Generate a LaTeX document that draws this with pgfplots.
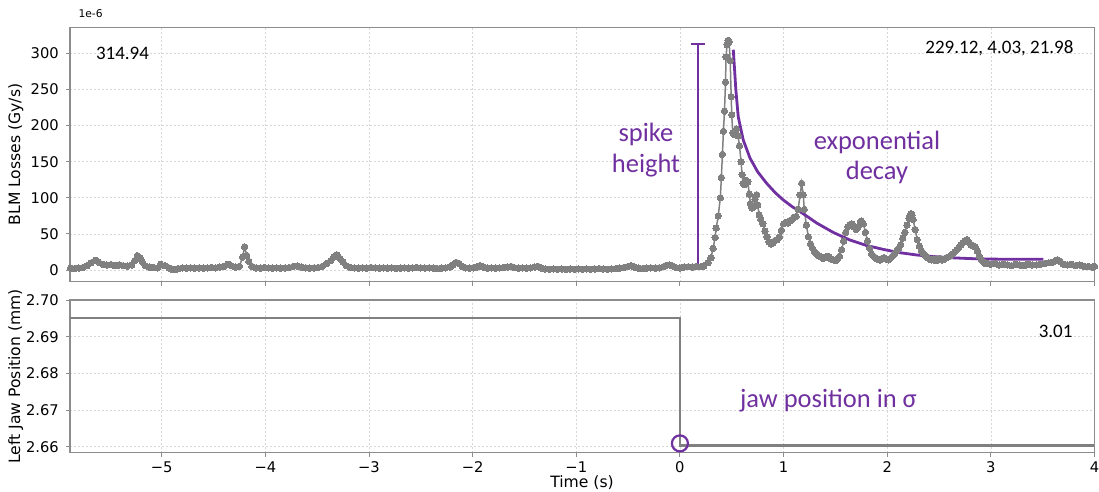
\documentclass[border=0pt]{standalone}
\usepackage{pgfplots}
\pgfplotsset{compat=1.18}
\usepackage{fontspec}
\setmainfont{DejaVu Sans}
\newfontfamily\calfont{Carlito}
\definecolor{datagray}{RGB}{128,128,128}
\definecolor{framegray}{RGB}{140,140,140}
\definecolor{gridgray}{RGB}{215,215,215}
\definecolor{annpurple}{RGB}{112,48,160}

\pgfplotstableread{
x y
-5.88 2.5
-5.84 2.0
-5.80 2.8
-5.76 3.5
-5.72 6
-5.68 10
-5.64 13.5
-5.61 11
-5.57 8
-5.53 7
-5.49 7.5
-5.45 6
-5.41 7
-5.37 6
-5.33 5.5
-5.29 7
-5.26 13
-5.235 20
-5.21 17
-5.19 12
-5.16 6
-5.12 4
-5.08 3.5
-5.04 3
-5.01 8
-4.97 6
-4.93 3
-4.90 1
-4.87 0.5
-4.84 2
-4.80 3
-4.76 2.5
-4.72 3
-4.68 2.5
-4.64 3
-4.60 2.5
-4.56 3
-4.52 3.5
-4.48 3
-4.44 4
-4.40 5
-4.36 8
-4.33 6
-4.29 4
-4.25 5
-4.22 18
-4.20 32
-4.18 20
-4.16 12
-4.13 5
-4.09 3
-4.05 2.5
-4.01 3.5
-3.97 3
-3.93 2.5
-3.89 3
-3.85 2.5
-3.81 3
-3.77 3.5
-3.73 5
-3.69 5.5
-3.65 4
-3.61 3
-3.57 2.5
-3.53 3
-3.49 3.5
-3.45 5
-3.41 9
-3.37 13
-3.34 18
-3.31 21
-3.28 16
-3.25 11
-3.22 6
-3.18 3.5
-3.14 3
-3.10 2.5
-3.06 3
-3.02 2.5
-2.98 3.5
-2.94 3
-2.90 2.5
-2.86 3
-2.82 2.5
-2.78 3
-2.74 2
-2.70 2.5
-2.66 3
-2.62 2.5
-2.58 3
-2.54 3.5
-2.50 3
-2.46 2.5
-2.42 3
-2.38 2.5
-2.34 2
-2.30 2.5
-2.26 3
-2.22 4
-2.19 7
-2.16 10.5
-2.13 9
-2.10 5
-2.07 3
-2.03 2.5
-1.99 3
-1.96 4
-1.93 6
-1.90 4
-1.86 2.5
-1.82 3
-1.78 2.5
-1.74 3
-1.70 3.5
-1.66 4
-1.63 5
-1.60 3.5
-1.56 2.5
-1.52 3
-1.48 2.5
-1.44 3
-1.40 4
-1.37 5
-1.34 3
-1.30 1.5
-1.26 1
-1.22 1.5
-1.18 1
-1.14 1.5
-1.10 1
-1.06 1.5
-1.02 1
-0.98 1.5
-0.94 1
-0.90 1.5
-0.86 1
-0.82 1.5
-0.78 2
-0.74 1.5
-0.70 1
-0.66 1.5
-0.62 2
-0.58 2.5
-0.54 3.5
-0.50 5
-0.47 6
-0.44 4
-0.40 2.5
-0.36 2
-0.32 2.5
-0.28 3
-0.24 2.5
-0.20 3
-0.16 4.5
-0.13 6.5
-0.10 7
-0.07 5.5
-0.04 3.5
0.00 3
0.04 4
0.08 4.5
0.12 4
0.16 5
0.20 4.5
0.23 5.5
0.27 10
0.30 17
0.32 30
0.34 45
0.35 58
0.37 75
0.39 100
0.40 128
0.41 160
0.42 192
0.43 220
0.44 260
0.445 295
0.455 312
0.465 318
0.475 316
0.485 290
0.495 240
0.50 215
0.51 190
0.52 188
0.53 192
0.545 195
0.56 186
0.575 172
0.59 150
0.60 132
0.61 120
0.625 118
0.64 124
0.655 122
0.67 105
0.68 92
0.695 86
0.71 88
0.725 98
0.74 104
0.75 90
0.765 76
0.78 70
0.80 64
0.82 54
0.84 46
0.86 39
0.88 36
0.90 38
0.92 41
0.94 42
0.96 46
0.98 55
1.00 64
1.02 66
1.04 65
1.06 68
1.08 70
1.10 73
1.12 74
1.14 84
1.16 104
1.175 120
1.19 104
1.20 84
1.22 62
1.24 46
1.26 36
1.28 30
1.30 25
1.32 22
1.34 20
1.36 18
1.38 16
1.40 17
1.42 19
1.44 18
1.46 15
1.48 14
1.50 13
1.52 16
1.54 19
1.56 28
1.58 40
1.60 52
1.62 60
1.64 63
1.66 64
1.68 60
1.70 56
1.72 60
1.74 66
1.75 68
1.77 64
1.79 52
1.81 40
1.83 30
1.85 22
1.87 19
1.89 16
1.91 15
1.93 14
1.95 16
1.97 17
1.99 15
2.01 14
2.03 16
2.05 19
2.07 22
2.09 26
2.11 30
2.13 35
2.15 44
2.17 52
2.19 62
2.21 72
2.23 78
2.24 76
2.25 70
2.27 56
2.29 42
2.31 33
2.33 27
2.35 23
2.37 20
2.39 17
2.41 15
2.43 14
2.45 15
2.47 13
2.49 14
2.51 16
2.53 14
2.55 15
2.57 17
2.59 18
2.61 20
2.63 22
2.65 25
2.67 28
2.69 31
2.71 35
2.73 38
2.75 40
2.77 42
2.79 38
2.81 35
2.83 33
2.85 32
2.87 26
2.89 19
2.91 14
2.93 11
2.95 9
2.97 9
3.00 8
3.04 9
3.08 7
3.12 8
3.16 7
3.20 6
3.24 8
3.28 7
3.32 6
3.36 8
3.40 7
3.44 7
3.48 8
3.52 9
3.56 10
3.60 11
3.64 14
3.67 12
3.70 8
3.74 7
3.78 8
3.82 6
3.86 7
3.90 5
3.94 5
3.98 4
4.00 5
}\blmdata

\pgfplotstableread{
x y
0.515 305
0.54 249
0.563 212
0.611 180
0.676 155
0.75 136
0.837 120
0.92 107
0.997 97
1.08 88
1.158 81
1.24 73
1.32 65
1.48 52
1.64 41.5
1.80 34
1.96 28.6
2.12 24
2.285 20.8
2.45 18.6
2.61 17
2.77 16
2.92 15.2
3.09 15
3.25 14.8
3.507 14.8
}\decaydata

\pgfplotstableread{
x y
-5.885 2.695
0.0 2.695
0.0 2.6603
4.0 2.6603
}\jawdata

\pgfplotsset{
  myaxis/.style={
    scale only axis,
    width=1024.5pt,
    xmin=-5.885, xmax=4,
    xtick={-5,-4,-3,-2,-1,0,1,2,3,4},
    tick pos=left,
    tick align=outside,
    major tick length=4pt,
    tick style={color=framegray, line width=1pt},
    axis line style={color=framegray, line width=1.5pt},
    grid=major,
    major grid style={color=gridgray, line width=0.6pt, dash pattern=on 2pt off 2pt},
    tick label style={font=\fontsize{14.7}{17}\selectfont, text=black},
    /pgf/number format/assume math mode=true,
    yticklabel style={anchor=east, inner sep=0pt, xshift=-7pt},
    xticklabel style={anchor=base, inner sep=0pt, yshift=-16pt},
  }
}

\begin{document}
\begin{tikzpicture}
\path[use as bounding box] (0pt,0pt) rectangle (1099pt,491pt);

% top axis
\begin{axis}[myaxis,
  at={(70pt,209.3pt)}, anchor=south west,
  height=254pt,
  ymin=-16.2, ymax=335.5,
  ytick={0,50,100,150,200,250,300},
  yticklabels={0,50,100,150,200,250,300},
  xticklabels={},
]
\addplot[datagray, line width=1.5pt, mark=*, mark size=3.2pt,
  mark options={fill=datagray, draw=datagray, line width=0pt}] table {\blmdata};
\addplot[annpurple, line width=2.8pt] table {\decaydata};
\addplot[annpurple, line width=2.8pt] coordinates {(0.174,7) (0.174,313)};
\addplot[annpurple, line width=2.8pt] coordinates {(0.103,313) (0.245,313)};
\addplot[annpurple, line width=2.8pt] coordinates {(0.103,7) (0.245,7)};
\end{axis}

% bottom axis
\begin{axis}[myaxis,
  at={(70pt,38.3pt)}, anchor=south west,
  height=152.7pt,
  ymin=2.65836, ymax=2.7,
  ytick={2.66,2.67,2.68,2.69,2.70},
  yticklabels={2.66,2.67,2.68,2.69,2.70},
  xticklabels={−5,−4,−3,−2,−1,0,1,2,3,4},
]
\addplot[datagray, line width=2.2pt] table {\jawdata};
\addplot[only marks, mark=o, mark size=8pt, annpurple,
  mark options={line width=2.2pt, draw=annpurple}] coordinates {(0,2.6609)};
\end{axis}

% axis labels
\node[rotate=90, anchor=base, font=\fontsize{15.6}{18}\selectfont] at (20pt,336.5pt) {BLM Losses (Gy/s)};
\node[rotate=90, anchor=base, font=\fontsize{15.6}{18}\selectfont] at (20pt,114.6pt) {Left Jaw Position (mm)};
\node[anchor=base, font=\fontsize{15.6}{18}\selectfont] at (582pt,3.5pt) {Time (s)};
\node[anchor=west, font=\fontsize{10.7}{12}\selectfont] at (75pt,477pt) {1e-6};

% value texts
\node[anchor=base, font=\calfont\fontsize{19}{22}\selectfont] at (122.5pt,431pt) {314.94};
\node[anchor=base east, font=\calfont\fontsize{19}{22}\selectfont] at (1077pt,437pt) {229.12, 4.03, 21.98};
\node[anchor=base east, font=\calfont\fontsize{19}{22}\selectfont] at (1076pt,154pt) {3.01};

% purple annotations
\node[anchor=base, text=annpurple, font=\calfont\fontsize{26.5}{30}\selectfont] at (646pt,350pt) {spike};
\node[anchor=base, text=annpurple, font=\calfont\fontsize{26.5}{30}\selectfont] at (646pt,319pt) {height};
\node[anchor=base, text=annpurple, font=\calfont\fontsize{26.5}{30}\selectfont] at (877pt,342pt) {exponential};
\node[anchor=base, text=annpurple, font=\calfont\fontsize{26.5}{30}\selectfont] at (877pt,312pt) {decay};
\node[anchor=base west, text=annpurple, font=\calfont\fontsize{26.5}{30}\selectfont] at (736.5pt,84pt) {jaw position in σ};
\end{tikzpicture}
\end{document}
